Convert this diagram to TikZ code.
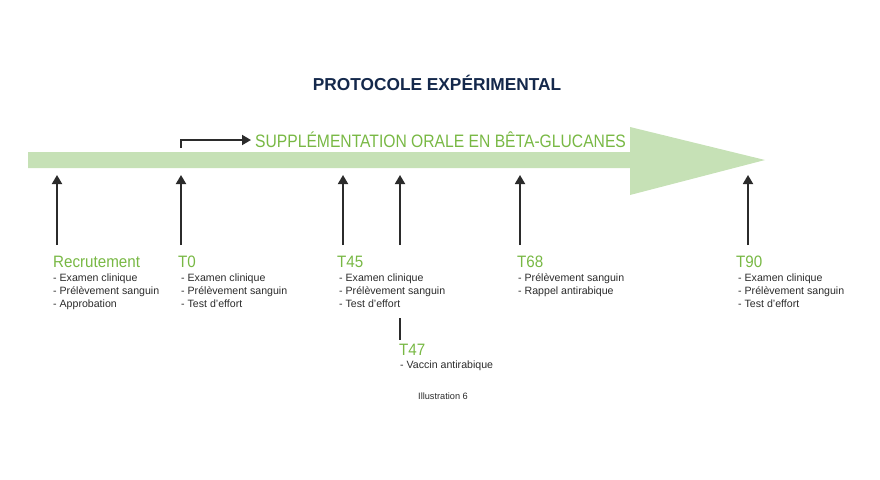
\documentclass[tikz,border=0pt]{standalone}
\usepackage{fontspec}
\setmainfont{Liberation Sans}
\usetikzlibrary{arrows.meta}
\definecolor{gr}{HTML}{78B844}
\definecolor{lgr}{HTML}{C6E1B6}
\definecolor{navy}{HTML}{14284B}
\definecolor{dk}{HTML}{2B2B2B}
\tikzset{
 up/.style={draw=dk,line width=1.8pt,-{Triangle[length=9pt,width=10pt]}},
 hd/.style={anchor=base west,text=gr,font=\fontsize{16.5}{16}\selectfont\addfontfeature{FakeStretch=0.92},inner sep=0},
 it/.style={anchor=north west,align=left,text=dk,font=\fontsize{10.6}{13}\selectfont,inner sep=0}
}
\begin{document}
\begin{tikzpicture}[x=1pt,y=-1pt]
\useasboundingbox (0,0) rectangle (880,479);
\fill[lgr] (28,152) -- (630,152) -- (630,127) -- (765,160) -- (630,195) -- (630,168) -- (28,168) -- cycle;
\node[text=navy,font=\bfseries\fontsize{17.3}{17}\selectfont] (title) at (437,83) {PROTOCOLE EXPÉRIMENTAL};
\node[text=gr,anchor=west,inner sep=0,font=\fontsize{18}{18}\selectfont] (supp) at (255,140) {\addfontfeature{FakeStretch=0.87}SUPPLÉMENTATION ORALE EN BÊTA-GLUCANES};
\coordinate (b0) at (181,148);
\draw[draw=dk,line width=1.8pt,-{Triangle[length=9pt,width=10pt]},shorten >=4pt] (b0) |- (supp.west);
\foreach \n/\x in {r/57,a/181,b/343,c/400,d/520,e/748}{
 \coordinate (s\n) at (\x,245); \coordinate (t\n) at (\x,175);
 \draw[up] (s\n) -- (t\n);}
\coordinate (p1) at (400,318); \coordinate (p2) at (400,340);
\draw[dk,line width=1.8pt] (p1) -- (p2);
\node[hd] (hr) at (53,267) {Recrutement};
\node[it] (ir) at (53,273.5) {- Examen clinique\\- Prélèvement sanguin\\- Approbation};
\node[hd] (ha) at (178,267) {T0};
\node[it] (ia) at (181,273.5) {- Examen clinique\\- Prélèvement sanguin\\- Test d’effort};
\node[hd] (hb) at (337,267) {T45};
\node[it] (ib) at (339,273.5) {- Examen clinique\\- Prélèvement sanguin\\- Test d’effort};
\node[hd] (hd) at (517,267) {T68};
\node[it] (id) at (518,273.5) {- Prélèvement sanguin\\- Rappel antirabique};
\node[hd] (he) at (736,267) {T90};
\node[it] (ie) at (738,273.5) {- Examen clinique\\- Prélèvement sanguin\\- Test d’effort};
\node[hd] (hc) at (399,355) {T47};
\node[it] (ic) at (400,361) {- Vaccin antirabique};
\node[text=dk,font=\fontsize{9.2}{10}\selectfont] (ill) at (443,396) {Illustration 6};
\end{tikzpicture}
\end{document}
